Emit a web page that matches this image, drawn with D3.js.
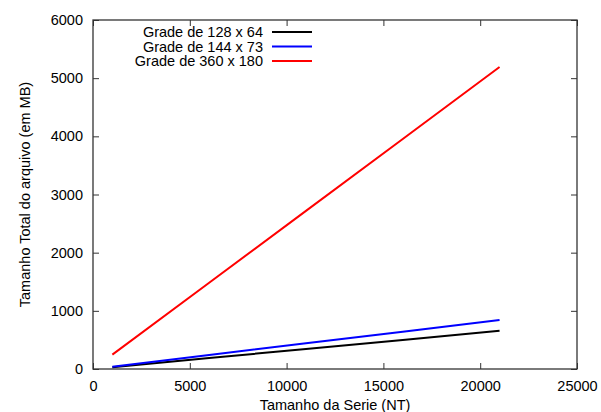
<!DOCTYPE html>
<html>
<head>
<meta charset="utf-8">
<script src="https://cdn.jsdelivr.net/npm/d3@7"></script>
<style>
  body { margin: 0; background: #fff; }
  text { font-family: "Liberation Sans", Arial, sans-serif; font-size: 14.5px; fill: #000; }
</style>
</head>
<body>
<div id="chart"></div>
<script>
// series sizes (NT) and file sizes (MB)
var seriesNT = [1000, 6000, 11000, 16000, 21000];
var grade128 = [31, 188, 344, 500, 656];
var grade144 = [40, 241, 441, 642, 842];
var grade360 = [247, 1483, 2719, 3955, 5191];
var legendLabels = ["Grade de 128 x 64", "Grade de 144 x 73", "Grade de 360 x 180"];
var colors = ["#000000", "#0000ff", "#ff0000"];
var xTicks = [0, 5000, 10000, 15000, 20000, 25000];
var yTicks = [0, 1000, 2000, 3000, 4000, 5000, 6000];

var W = 601, H = 412;
var mLeft = 93, mRight = 577, mTop = 20, mBottom = 369;

var svg = d3.select("#chart").append("svg")
    .attr("width", W)
    .attr("height", H);

var x = d3.scaleLinear().domain([0, 25000]).range([mLeft, mRight]);
var y = d3.scaleLinear().domain([0, 6000]).range([mBottom, mTop]);

var tickLen = 6;
var axisColor = "#333";

function styleAxis(g) {
    g.select(".domain").remove();
    g.selectAll("line").attr("stroke", axisColor);
    g.selectAll("text").attr("font-family", null).attr("font-size", null).attr("fill", "#000");
    g.attr("font-family", null).attr("font-size", null);
}

// bottom & top axes
svg.append("g").attr("transform", "translate(0," + mBottom + ")")
    .call(d3.axisBottom(x).tickValues(xTicks).tickSize(-tickLen).tickPadding(12).tickFormat(d3.format("d")))
    .call(styleAxis);
svg.append("g").attr("transform", "translate(0," + mTop + ")")
    .call(d3.axisTop(x).tickValues(xTicks).tickSize(-tickLen).tickFormat(""))
    .call(styleAxis);

// left & right axes
svg.append("g").attr("transform", "translate(" + mLeft + ",0)")
    .call(d3.axisLeft(y).tickValues(yTicks).tickSize(-tickLen).tickPadding(10).tickFormat(d3.format("d")))
    .call(styleAxis);
svg.append("g").attr("transform", "translate(" + mRight + ",0)")
    .call(d3.axisRight(y).tickValues(yTicks).tickSize(-tickLen).tickFormat(""))
    .call(styleAxis);

// frame
svg.append("rect")
    .attr("x", mLeft).attr("y", mTop)
    .attr("width", mRight - mLeft).attr("height", mBottom - mTop)
    .attr("fill", "none").attr("stroke", axisColor).attr("stroke-width", 1.3);

// lines
var line = d3.line()
    .x(function (d) { return x(d[0]); })
    .y(function (d) { return y(d[1]); });

[grade128, grade144, grade360].forEach(function (vals, i) {
    svg.append("path")
        .datum(seriesNT.map(function (n, j) { return [n, vals[j]]; }))
        .attr("d", line)
        .attr("fill", "none")
        .attr("stroke", colors[i])
        .attr("stroke-width", 2);
});

// legend
legendLabels.forEach(function (lab, i) {
    var ly = 32 + i * 14.5;
    svg.append("text")
        .attr("x", 263).attr("y", ly)
        .attr("dy", "0.35em")
        .attr("text-anchor", "end")
        .text(lab);
    svg.append("line")
        .attr("x1", 272).attr("x2", 312)
        .attr("y1", ly).attr("y2", ly)
        .attr("stroke", colors[i])
        .attr("stroke-width", 2);
});

// axis titles
svg.append("text")
    .attr("x", (mLeft + mRight) / 2).attr("y", 410)
    .attr("text-anchor", "middle")
    .text("Tamanho da Serie (NT)");
svg.append("text")
    .attr("transform", "translate(30," + ((mTop + mBottom) / 2) + ") rotate(-90)")
    .attr("text-anchor", "middle")
    .text("Tamanho Total do arquivo (em MB)");
</script>
</body>
</html>
